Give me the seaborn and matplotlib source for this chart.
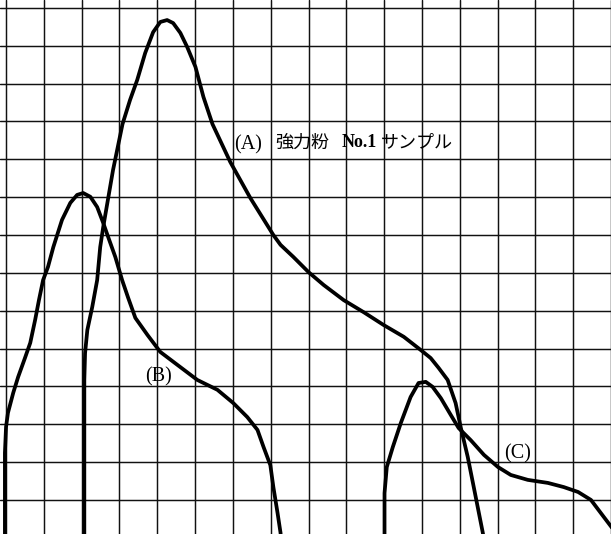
import matplotlib
matplotlib.use("Agg")
import matplotlib.pyplot as plt
import seaborn as sns
import pandas as pd

# Curve data in grid units (1 unit = 1 grid square)
a_x = [2.07, 2.07, 2.09, 2.15, 2.28, 2.41, 2.49, 2.57, 2.68, 2.83, 3.08, 3.28, 3.47, 3.68,
       3.89, 4.08, 4.26, 4.42, 4.61, 4.79, 5.01, 5.22, 5.46, 5.93, 6.46, 7.07, 7.26, 7.60,
       8.00, 8.40, 8.93, 9.46, 9.99, 10.52, 10.97, 11.23, 11.44, 11.68, 11.89, 12.03, 12.21,
       12.37, 12.61, 12.66]
a_y = [-0.19, 4.17, 4.88, 5.49, 6.10, 6.81, 7.68, 8.21, 8.85, 9.72, 10.93, 11.57, 12.10, 12.81,
       13.36, 13.63, 13.68, 13.60, 13.34, 12.97, 12.44, 11.65, 10.93, 9.93, 8.98, 8.00, 7.74, 7.42,
       7.02, 6.68, 6.28, 5.96, 5.62, 5.31, 4.96, 4.75, 4.49, 4.17, 3.56, 2.90, 2.14,
       1.34, 0.13, -0.19]

b_x = [-0.03, -0.03, 0.00, 0.05, 0.19, 0.32, 0.50, 0.64, 0.77, 0.87, 0.98, 1.11, 1.25, 1.48,
       1.70, 1.88, 2.04, 2.23, 2.41, 2.57, 2.70, 2.89, 3.07, 3.23, 3.42, 3.74, 4.08, 4.53,
       5.06, 5.59, 6.01, 6.38, 6.65, 6.81, 6.99, 7.07, 7.18, 7.26, 7.28]
b_y = [-0.19, 2.24, 2.93, 3.30, 3.83, 4.25, 4.75, 5.15, 5.76, 6.28, 6.81, 7.16, 7.68, 8.40,
       8.85, 9.06, 9.11, 9.01, 8.74, 8.32, 7.95, 7.42, 6.81, 6.34, 5.81, 5.36, 4.91, 4.57,
       4.17, 3.91, 3.56, 3.19, 2.85, 2.40, 1.92, 1.34, 0.66, 0.13, -0.19]

c_x = [10.01, 10.01, 10.07, 10.23, 10.44, 10.70, 10.91, 11.10, 11.28, 11.50, 11.76, 11.97,
       12.29, 12.64, 13.01, 13.35, 13.80, 14.33, 14.75, 15.13, 15.47, 15.81, 16.03, 16.19]
c_y = [-0.19, 1.18, 1.87, 2.40, 3.03, 3.72, 4.09, 4.12, 3.99, 3.69, 3.25, 2.90,
       2.58, 2.19, 1.87, 1.66, 1.53, 1.45, 1.34, 1.21, 1.00, 0.55, 0.26, -0.06]

label_a = ["(A)", "強力粉", "No.1", "サンプル"]
label_b = "(B)"
label_c = "(C)"

sns.set_theme(style="white")
plt.rcParams["font.family"] = ["Liberation Serif", "Noto Sans CJK JP", "DejaVu Sans"]

fig = plt.figure(figsize=(6.11, 5.34), dpi=100)
ax = fig.add_axes([0, 0, 1, 1])
ax.set_facecolor("white")

for xs, ys in [(a_x, a_y), (b_x, b_y), (c_x, c_y)]:
    df = pd.DataFrame({"x": xs, "y": ys})
    sns.lineplot(data=df, x="x", y="y", sort=False, estimator=None, ax=ax,
                 color="black", linewidth=2.7, solid_joinstyle="round",
                 solid_capstyle="round", zorder=3)

ax.set_xlim(-0.16, 15.99)
ax.set_ylim(0.1, 14.21)
ax.set_xticks(range(0, 17))
ax.set_yticks(range(1, 15))
ax.grid(True, color="#111111", linewidth=1.05)
ax.tick_params(length=0, labelbottom=False, labelleft=False)
ax.set_xlabel("")
ax.set_ylabel("")
for s in ax.spines.values():
    s.set_visible(False)

ya = 10.45
ax.text(6.03, ya - 0.06, label_a[0], fontsize=14.5, ha="left", va="center",
        family=["Liberation Serif"], color="black", zorder=4)
ax.text(7.13, ya, label_a[1], fontsize=13, ha="left", va="center",
        family=["Noto Sans CJK JP"], color="black", zorder=4)
ax.text(8.88, ya, label_a[2], fontsize=13, ha="left", va="center",
        family=["Liberation Serif"], fontweight="bold", color="black", zorder=4)
ax.text(9.92, ya, label_a[3], fontsize=13, ha="left", va="center",
        family=["Noto Sans CJK JP"], color="black", zorder=4)
ax.text(4.03, 4.26, label_b, fontsize=14.5, ha="center", va="center",
        family=["Liberation Serif"], color="black", zorder=4)
ax.text(13.54, 2.23, label_c, fontsize=14.5, ha="center", va="center",
        family=["Liberation Serif"], color="black", zorder=4)

fig.savefig("out.png", dpi=100)
